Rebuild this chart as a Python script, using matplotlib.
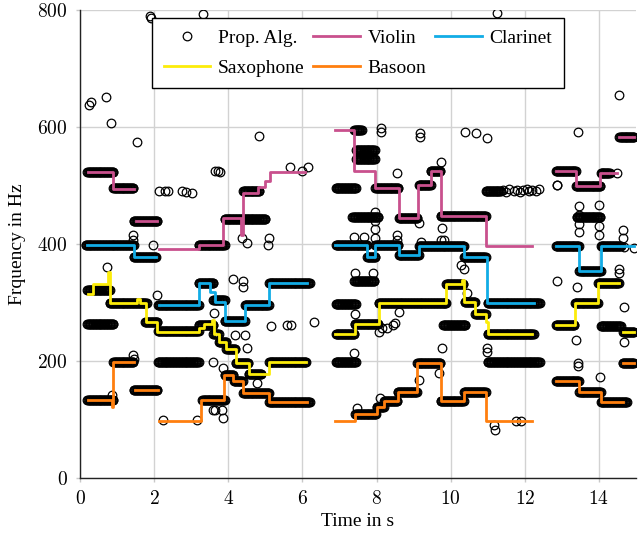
import numpy as np
import matplotlib
matplotlib.use('Agg')
import matplotlib.pyplot as plt
from matplotlib.ticker import FuncFormatter, MultipleLocator
from matplotlib.lines import Line2D

plt.rcParams['font.family'] = ['Liberation Serif', 'DejaVu Serif']
plt.rcParams['mathtext.fontset'] = 'cm'

nan = np.nan
# ---- reference pitch tracks (step onsets, frequency held until next onset; NaN = gap)
violin_t = [0.22, 0.90, 1.45, nan, 1.50, 2.07, nan,
            2.12, 3.20, 3.87, 4.35, 4.41, 4.80, 5.00, 5.12, 6.08, nan,
            6.89, 7.38, 7.97, 8.60, 9.12, 9.46, 9.73, 10.95, 12.20, nan,
            12.84, 13.38, 14.02, 14.50, nan, 14.55, 14.95]
violin_f = [523, 494, 494, nan, 440, 440, nan,
            392, 398, 444, 415, 488, 497, 508, 523, 523, nan,
            595, 524, 496, 444, 501, 524, 448, 396, 396, nan,
            524, 499, 521, 521, nan, 583, 583]

clarinet_t = [0.20, 1.45, 2.05, nan,
              2.12, 3.22, 3.52, 3.65, 3.92, 4.46, 5.09, 6.13, nan,
              6.89, 7.75, 7.97, 8.60, 9.14, 10.36, 10.97, 12.25, nan,
              12.84, 13.47, 14.05, 14.95]
clarinet_f = [398, 378, 378, nan,
              296, 333, 318, 301, 269, 296, 333, 333, nan,
              398, 378, 398, 381, 396, 377, 300, 300, nan,
              397, 354, 397, 397]

sax_t = [0.22, 0.35, 0.76, 0.80, 1.55, 1.62, 1.78, 2.07, 3.20, 3.35, 3.55, 3.62,
         3.75, 3.95, 4.20, 4.55, 5.10, 6.10, nan,
         6.89, 7.41, 8.06, 9.88, 10.30, 10.36, 10.66, 10.95, 11.02, 12.20, nan,
         12.84, 13.35, 13.98, 14.55, nan, 14.65, 14.95]
sax_f = [315, 332, 352, 299, 306, 299, 267, 250, 256, 263, 270, 247,
         233, 220, 196, 177, 198, 198, nan,
         247, 264, 299, 331, 338, 301, 281, 267, 247, 247, nan,
         261, 299, 333, 333, nan, 250, 250]

basoon_t = [0.22, 0.86, 0.90, 1.45, nan, 1.48, 2.10, nan,
            2.12, 3.27, 3.88, 4.14, 4.41, 5.10, 6.13, nan,
            6.89, 7.43, 8.00, 8.20, 8.57, 9.10, 9.73, 10.36, 10.95, 12.20, nan,
            12.84, 13.47, 14.05, 14.64, nan, 14.64, 14.95]
basoon_f = [133, 122, 199, 199, nan, 150, 150, nan,
            98, 133, 176, 166, 145, 130, 130, nan,
            98, 110, 122, 131, 147, 196, 131, 147, 97, 97, nan,
            165, 147, 130, 130, nan, 196, 196]

# ---- proposed algorithm: detected note tracks (start, end, frequency) ...
det_t0 = [0.20, 0.90, 1.45, 3.20, 3.90, 4.40,
          0.15, 1.45, 2.10, 3.20, 3.60, 3.90, 4.45, 5.10,
          0.20, 0.80, 1.75, 2.10, 3.20, 3.60, 3.75, 3.95, 4.20, 4.55, 5.10,
          0.20, 0.90, 1.45, 3.30, 3.90, 4.15, 4.40, 5.10,
          0.20, 2.10,
          6.90, 7.35, 7.45, 7.45, 7.40, 7.97, 8.60, 9.14, 9.46, 9.73, 10.95,
          6.90, 7.75, 7.97, 8.60, 9.14, 10.36, 11.00,
          6.90, 6.90, 7.40,
          6.90, 7.41, 8.06, 9.88, 10.38, 10.66, 11.00,
          9.80, 11.00,
          7.43, 8.00, 8.20, 8.57, 9.10, 9.73, 10.36,
          12.84, 13.38, 14.05, 14.55, 13.40,
          12.84, 13.47, 14.05,
          12.84, 13.35, 13.98, 14.05, 14.65,
          12.84, 13.47, 14.05, 14.64]
det_t1 = [0.90, 1.45, 2.10, 3.90, 5.00, 4.85,
          1.45, 2.05, 3.20, 3.60, 3.90, 4.45, 5.10, 6.20,
          0.80, 1.80, 2.10, 3.20, 3.60, 3.75, 3.95, 4.20, 4.55, 4.90, 6.10,
          0.90, 1.45, 2.10, 3.90, 4.15, 4.40, 5.10, 6.20,
          0.90, 3.20,
          7.45, 8.05, 7.95, 7.95, 7.60, 8.60, 9.10, 9.46, 9.73, 10.95, 11.35,
          7.75, 7.97, 8.60, 9.14, 10.36, 10.95, 12.40,
          7.45, 7.45, 7.95,
          7.41, 8.06, 9.88, 10.35, 10.66, 10.95, 12.25,
          10.40, 12.40,
          8.00, 8.20, 8.57, 9.10, 9.73, 10.36, 10.95,
          13.38, 14.05, 14.30, 14.95, 14.05,
          13.47, 14.05, 14.60,
          13.35, 13.98, 14.55, 14.60, 14.95,
          13.47, 14.05, 14.75, 14.95]
det_f = [523, 495, 440, 398, 442, 490,
         398, 378, 296, 333, 305, 269, 296, 333,
         322, 299, 267, 251, 262, 247, 233, 220, 196, 178, 198,
         133, 199, 150, 133, 176, 166, 146, 130,
         263, 198,
         495, 447, 560, 545, 595, 496, 444, 501, 524, 448, 491,
         398, 378, 398, 381, 396, 377, 300,
         298, 198, 336,
         247, 264, 299, 331, 301, 281, 247,
         262, 199,
         110, 122, 131, 147, 196, 131, 147,
         524, 500, 521, 583, 447,
         397, 354, 397,
         261, 299, 333, 259, 250,
         165, 147, 130, 196]
det_hop = 0.02  # frame hop of the estimator in seconds

# ... and isolated estimates
out_t = [0.25, 0.29, 0.70, 0.83, 1.53, 1.89, 1.92, 3.33, 4.84,
         2.12, 2.30, 2.38, 2.75, 2.85, 3.02, 3.65, 3.72, 3.78, 5.67, 5.98, 6.16,
         4.37, 4.50, 5.09, 5.08, 1.44, 1.44, 1.98,
         4.14, 4.41, 4.41, 3.62, 5.14, 5.59, 5.68, 6.31, 3.60, 3.87, 4.50, 4.19,
         4.46, 4.77, 3.60, 3.83, 3.87, 3.65, 2.07, 1.44, 1.46, 2.25, 3.15, 0.72, 0.86,
         8.11, 8.11, 9.17, 9.17, 10.40, 10.68, 10.97, 11.26, 8.54, 9.73,
         7.43, 7.90, 7.39, 7.65, 7.97, 7.97, 7.97, 7.97, 8.56, 8.56, 9.19, 9.14,
         9.73, 9.77, 9.82, 10.27, 10.36, 7.43, 8.06, 8.15, 8.29, 8.45, 8.50, 8.60,
         7.39, 9.77, 9.68, 9.14, 8.10, 7.48, 10.97, 10.99, 11.20, 11.17, 11.76,
         11.90, 10.45, 12.88,
         11.42, 11.50, 11.58, 11.70, 11.78, 11.86, 11.95, 12.05, 12.12, 12.20,
         12.30, 12.38,
         13.44, 12.88, 14.50, 14.53, 13.47, 13.47, 13.47, 13.47, 14.01, 14.01,
         14.01, 14.64, 14.64, 14.55, 14.55, 12.88, 13.40, 13.38, 14.68, 14.68,
         13.44, 13.44, 14.04, 14.68, 14.95]
out_f = [638, 643, 652, 607, 574, 790, 787, 793, 585,
         490, 491, 490, 490, 489, 488, 525, 525, 523, 532, 525, 532,
         410, 402, 410, 398, 415, 407, 398,
         340, 336, 327, 282, 259, 261, 262, 266, 199, 188, 222, 245,
         244, 162, 116, 116, 102, 116, 312, 210, 203, 99, 99, 361, 142,
         598, 592, 589, 583, 592, 589, 582, 795, 521, 541,
         350, 350, 412, 412, 410, 425, 440, 455, 415, 407, 404, 436,
         407, 427, 407, 364, 358, 281, 250, 256, 256, 262, 265, 284,
         214, 222, 179, 167, 137, 119, 222, 215, 82, 90, 98,
         98, 316, 501,
         492, 489, 494, 490, 493, 489, 492, 494, 490, 493, 491, 494,
         592, 501, 521, 655, 420, 435, 450, 465, 467, 430,
         415, 424, 410, 350, 358, 336, 327, 236, 292, 233,
         196, 191, 173, 395, 393]

# ---- style
c_violin = '#c9508d'
c_clarinet = '#12ace6'
c_sax = '#fcec0a'
c_basoon = '#ff7f0e'
ms = 6.2
mew = 0.9
lw = 2.0

fig = plt.figure(figsize=(6.4, 5.33), dpi=100)
ax = fig.add_axes([80 / 640, 55 / 533, 556 / 640, 468 / 533])

# expand detected tracks into frame-wise estimates
pa_t, pa_f = [], []
for a, b, f in zip(det_t0, det_t1, det_f):
    tt = np.arange(a, b + 1e-9, det_hop)
    pa_t.extend(tt)
    pa_f.extend([f] * len(tt))
pa_t.extend(out_t)
pa_f.extend(out_f)

ax.plot(pa_t, pa_f, linestyle='none', marker='o', ms=ms, mfc='none',
        mec='black', mew=mew, zorder=3)

ax.plot(violin_t, violin_f, drawstyle='steps-post', color=c_violin, lw=lw, zorder=4)
ax.plot(clarinet_t, clarinet_f, drawstyle='steps-post', color=c_clarinet, lw=lw, zorder=4)
ax.plot(sax_t, sax_f, drawstyle='steps-post', color=c_sax, lw=lw, zorder=4)
ax.plot(basoon_t, basoon_f, drawstyle='steps-post', color=c_basoon, lw=lw, zorder=4)

ax.set_xlim(0, 15)
ax.set_ylim(0, 800)
ax.xaxis.set_major_locator(MultipleLocator(2))
ax.yaxis.set_major_locator(MultipleLocator(200))
fmt = FuncFormatter(lambda v, p: r'$%d$' % int(round(v)))
ax.xaxis.set_major_formatter(fmt)
ax.yaxis.set_major_formatter(fmt)
ax.tick_params(axis='both', labelsize=14, direction='out', length=3,
               color='#c8c8c8', width=1, pad=6)
ax.grid(True, color='#d2d2d2', lw=1, zorder=0)
ax.set_axisbelow(True)
for s in ['top', 'right']:
    ax.spines[s].set_visible(False)
for s in ['left', 'bottom']:
    ax.spines[s].set_color('#222222')
    ax.spines[s].set_linewidth(1.0)

ax.set_xlabel('Time in s', fontsize=14, labelpad=3)
ax.set_ylabel('Frquency in Hz', fontsize=14, labelpad=8)

handles = [
    Line2D([], [], linestyle='none', marker='o', ms=ms, mfc='none', mec='black', mew=mew),
    Line2D([], [], color=c_sax, lw=lw),
    Line2D([], [], color=c_violin, lw=lw),
    Line2D([], [], color=c_basoon, lw=lw),
    Line2D([], [], color=c_clarinet, lw=lw),
]
labels = ['Prop. Alg.', 'Saxophone', 'Violin', 'Basoon', 'Clarinet']
leg = ax.legend(handles, labels, loc='upper center', bbox_to_anchor=(0.5, 0.983),
                borderaxespad=0, ncol=3, fontsize=14, frameon=True, fancybox=False,
                framealpha=1, edgecolor='black', handlelength=2.4, handletextpad=0.4,
                columnspacing=0.45, borderpad=0.6, labelspacing=0.6)
leg.get_frame().set_linewidth(1.0)
leg.set_zorder(10)

fig.savefig('out.png', dpi=100)
